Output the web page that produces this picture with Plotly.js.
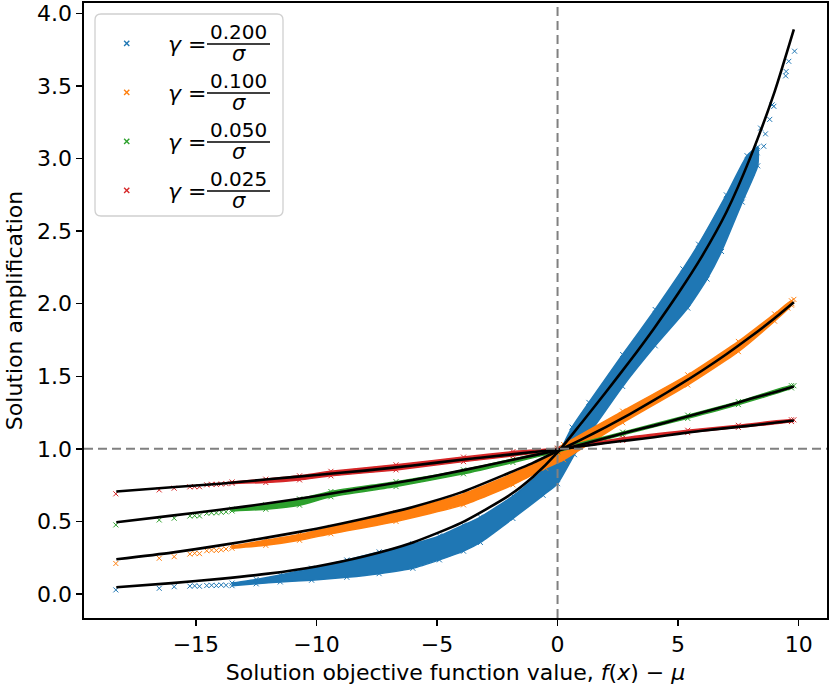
<!DOCTYPE html>
<html>
<head>
<meta charset="utf-8">
<script src="https://cdn.plot.ly/plotly-3.0.1.min.js"></script>
<style>html,body{margin:0;padding:0;background:#fff;}#chart{width:831px;height:692px;}</style>
</head>
<body>
<div id="chart"></div>
<script>
// ---------- data ----------
const seriesNames = ["γ = 0.200/σ", "γ = 0.100/σ", "γ = 0.050/σ", "γ = 0.025/σ"];
const gammaLabels = ["0.200", "0.100", "0.050", "0.025"];
const xTickVals = [-15, -10, -5, 0, 5, 10];
const xTickText = ["−15", "−10", "−5", "0", "5", "10"];
const yTickVals = [0, 0.5, 1, 1.5, 2, 2.5, 3, 3.5, 4];
const yTickText = ["0.0", "0.5", "1.0", "1.5", "2.0", "2.5", "3.0", "3.5", "4.0"];
const refX = 0;
const refY = 1;

// black model curves
const curveX = [-18.3, -16, -14, -12, -10, -8, -6, -4, -2, -1, 0, 1, 2, 3, 4, 5, 6, 7, 8, 9, 9.8];
const curveBlue   = [0.046, 0.075, 0.104, 0.14, 0.19, 0.26, 0.355, 0.49, 0.68, 0.81, 0.975, 1.18, 1.39, 1.605, 1.83, 2.07, 2.33, 2.63, 3.01, 3.46, 3.89];
const curveOrange = [0.239, 0.285, 0.335, 0.39, 0.45, 0.52, 0.60, 0.70, 0.835, 0.905, 0.985, 1.065, 1.15, 1.24, 1.335, 1.435, 1.54, 1.652, 1.772, 1.90, 2.01];
const curveGreen  = [0.494, 0.54, 0.58, 0.625, 0.675, 0.73, 0.785, 0.85, 0.92, 0.955, 0.99, 1.03, 1.075, 1.12, 1.16, 1.205, 1.25, 1.295, 1.345, 1.39, 1.43];
const curveRed    = [0.706, 0.735, 0.76, 0.79, 0.82, 0.85, 0.885, 0.925, 0.96, 0.978, 0.995, 1.018, 1.04, 1.06, 1.08, 1.103, 1.125, 1.143, 1.16, 1.18, 1.195];

// dense sample clouds: upper and lower envelopes
const blueUpperX = [-13.5, -12.5, -11.5, -10.2, -8.74, -7.4, -6.0, -4.9, -3.9, -3.2, -1.85, -0.75, 0, 0.6, 1.3, 2.7, 4.05, 5.2, 5.85, 7.0, 7.86, 8.3];
const blueUpperY = [0.075, 0.1, 0.131, 0.178, 0.234, 0.29, 0.345, 0.40, 0.475, 0.53, 0.675, 0.83, 0.955, 1.15, 1.32, 1.65, 1.96, 2.24, 2.41, 2.75, 3.02, 3.08];
const blueLowerX = [8.3, 7.66, 6.8, 6.2, 5.4, 4.05, 2.7, 1.3, 0.7, 0, -0.6, -1.85, -3.2, -3.9, -4.9, -6.0, -7.4, -8.74, -10.2, -11.5, -12.5, -13.5];
const blueLowerY = [2.95, 2.70, 2.36, 2.17, 1.97, 1.71, 1.43, 1.10, 0.96, 0.76, 0.68, 0.52, 0.355, 0.295, 0.235, 0.177, 0.14, 0.115, 0.095, 0.083, 0.07, 0.057];

const orangeUpperX = [-13.5, -12.1, -10.7, -9.4, -6.7, -3.9, -1.85, -0.5, 0.25, 2.7, 5.4, 7.5, 9.0, 9.7];
const orangeUpperY = [0.33, 0.37, 0.41, 0.46, 0.56, 0.69, 0.83, 0.945, 1.03, 1.26, 1.51, 1.74, 1.93, 2.02];
const orangeLowerX = [9.7, 9.0, 7.5, 5.4, 2.7, 0.25, -0.5, -1.85, -3.9, -6.7, -9.4, -10.7, -12.1, -13.5];
const orangeLowerY = [1.99, 1.88, 1.67, 1.44, 1.18, 0.925, 0.867, 0.752, 0.614, 0.5, 0.415, 0.37, 0.335, 0.315];

const greenUpperX = [-13.5, -12.1, -10.7, -9.4, -6.7, -3.9, -1.85, 0, 2.7, 5.4, 7.5, 9.7];
const greenUpperY = [0.585, 0.614, 0.655, 0.706, 0.774, 0.855, 0.929, 1.0, 1.115, 1.232, 1.325, 1.435];
const greenLowerX = [9.7, 7.5, 5.4, 2.7, 0, -1.85, -3.9, -6.7, -9.4, -10.7, -12.1, -13.5];
const greenLowerY = [1.42, 1.305, 1.21, 1.097, 0.98, 0.906, 0.828, 0.74, 0.67, 0.612, 0.584, 0.572];

const redUpperX = [-13.5, -12.1, -10.7, -9.4, -6.7, -3.9, -1.85, 0, 2.7, 5.4, 7.5, 9.7];
const redUpperY = [0.772, 0.791, 0.814, 0.845, 0.89, 0.943, 0.981, 1.005, 1.075, 1.128, 1.162, 1.2];
const redLowerX = [9.7, 7.5, 5.4, 2.7, 0, -1.85, -3.9, -6.7, -9.4, -10.7, -12.1, -13.5];
const redLowerY = [1.188, 1.148, 1.112, 1.058, 0.99, 0.952, 0.912, 0.855, 0.814, 0.786, 0.768, 0.762];

// sparse individual samples
const blueSparseX = [-18.32, -16.52, -15.9, -15.25, -15.05, -14.85, -14.55, -14.35, -14.15, -13.95, -13.75, 7.2, 7.45, 7.7, 7.9, 8.05, 8.14, 8.28, 8.42, 8.55, 8.62, 8.8, 8.9, 8.97, 9.46, 9.48, 9.59, 9.83];
const blueSparseY = [0.028, 0.039, 0.05, 0.054, 0.056, 0.053, 0.058, 0.06, 0.058, 0.062, 0.06, 2.6, 2.67, 2.75, 2.86, 2.9, 2.97, 3.04, 3.21, 3.085, 3.17, 3.27, 3.37, 3.36, 3.57, 3.60, 3.67, 3.74];
const orangeSparseX = [-18.32, -16.52, -15.9, -15.25, -15.05, -14.85, -14.55, -14.35, -14.15, -13.95, -13.75, 9.55, 9.72, 9.8];
const orangeSparseY = [0.21, 0.246, 0.257, 0.275, 0.28, 0.278, 0.298, 0.302, 0.3, 0.305, 0.31, 1.97, 2.0, 2.03];
const greenSparseX = [-18.32, -16.52, -15.9, -15.25, -15.05, -14.85, -14.55, -14.35, -14.15, -13.95, -13.75, 9.8];
const greenSparseY = [0.476, 0.51, 0.522, 0.537, 0.54, 0.538, 0.556, 0.56, 0.559, 0.563, 0.566, 1.435];
const redSparseX = [-18.32, -16.52, -15.9, -15.25, -15.05, -14.85, -14.55, -14.35, -14.15, -13.95, -13.75, 9.8];
const redSparseY = [0.69, 0.717, 0.729, 0.738, 0.74, 0.739, 0.752, 0.756, 0.755, 0.758, 0.76, 1.2];

// ---------- building the figure ----------
const colors = ["#1f77b4", "#ff7f0e", "#2ca02c", "#d62728"];
const clouds = [
  [blueUpperX, blueUpperY, blueLowerX, blueLowerY, blueSparseX, blueSparseY],
  [orangeUpperX, orangeUpperY, orangeLowerX, orangeLowerY, orangeSparseX, orangeSparseY],
  [greenUpperX, greenUpperY, greenLowerX, greenLowerY, greenSparseX, greenSparseY],
  [redUpperX, redUpperY, redLowerX, redLowerY, redSparseX, redSparseY]
];
const curves = [curveBlue, curveOrange, curveGreen, curveRed];

const traces = [];
clouds.forEach((c, i) => {
  traces.push({
    type: "scatter", mode: "lines+markers", name: seriesNames[i], showlegend: false,
    x: c[0].concat(c[2]), y: c[1].concat(c[3]),
    fill: "toself", fillcolor: colors[i],
    line: {color: colors[i], width: 1.5, shape: "spline", smoothing: 0.5},
    marker: {symbol: "x-thin", size: 5, line: {width: 1, color: colors[i]}, color: colors[i]},
    hoverinfo: "skip"
  });
  traces.push({
    type: "scatter", mode: "markers", name: seriesNames[i], showlegend: false,
    x: c[4], y: c[5],
    marker: {symbol: "x-thin", size: 5, line: {width: 1, color: colors[i]}, color: colors[i]}
  });
});
curves.forEach((cy) => {
  traces.push({
    type: "scatter", mode: "lines", showlegend: false,
    x: curveX, y: cy, line: {color: "#000000", width: 2.6, shape: "spline", smoothing: 0.6}
  });
});

// plot area in pixels (for legend placement)
const PL = 84, PR = 827, PT = 3, PB = 618;
const X = px => (px - PL) / (PR - PL);
const Y = py => (PB - py) / (PB - PT);

const shapes = [
  {type: "line", xref: "x", yref: "paper", x0: refX, x1: refX, y0: 0, y1: 1, layer: "above",
   line: {color: "#808080", width: 2, dash: "9px,5px"}},
  {type: "line", xref: "paper", yref: "y", x0: 0, x1: 1, y0: refY, y1: refY, layer: "above",
   line: {color: "#808080", width: 2, dash: "9px,5px"}}
];
// legend frame (rounded)
const bx0 = 95, bx1 = 283, by0 = 14, by1 = 216, r = 6;
shapes.push({
  type: "path", xref: "paper", yref: "paper", layer: "above",
  path: `M ${X(bx0 + r)},${Y(by0)} L ${X(bx1 - r)},${Y(by0)} Q ${X(bx1)},${Y(by0)} ${X(bx1)},${Y(by0 + r)} ` +
        `L ${X(bx1)},${Y(by1 - r)} Q ${X(bx1)},${Y(by1)} ${X(bx1 - r)},${Y(by1)} ` +
        `L ${X(bx0 + r)},${Y(by1)} Q ${X(bx0)},${Y(by1)} ${X(bx0)},${Y(by1 - r)} ` +
        `L ${X(bx0)},${Y(by0 + r)} Q ${X(bx0)},${Y(by0)} ${X(bx0 + r)},${Y(by0)} Z`,
  fillcolor: "rgba(255,255,255,0.8)", line: {color: "#d0d0d0", width: 1.3}
});
const annotations = [];
const fontFam = "DejaVu Sans, sans-serif";
gammaLabels.forEach((g, i) => {
  const cy = 43.3 + 49 * i;
  const cx = 126.7, h = 2.6;
  shapes.push({type: "line", xref: "paper", yref: "paper", layer: "above",
    x0: X(cx - h), x1: X(cx + h), y0: Y(cy - h), y1: Y(cy + h), line: {color: colors[i], width: 1.4}});
  shapes.push({type: "line", xref: "paper", yref: "paper", layer: "above",
    x0: X(cx - h), x1: X(cx + h), y0: Y(cy + h), y1: Y(cy - h), line: {color: colors[i], width: 1.4}});
  shapes.push({type: "line", xref: "paper", yref: "paper", layer: "above",
    x0: X(207), x1: X(270), y0: Y(cy + 0.7), y1: Y(cy + 0.7), line: {color: "#000000", width: 1.3}});
  annotations.push({xref: "paper", yref: "paper", x: X(166), y: Y(cy + 1), xanchor: "left", yanchor: "middle",
    text: "<i>γ</i> =", showarrow: false, font: {family: fontFam, size: 22, color: "#000"}});
  annotations.push({xref: "paper", yref: "paper", x: X(238.5), y: Y(cy - 11), xanchor: "center", yanchor: "middle",
    text: g, showarrow: false, font: {family: fontFam, size: 20, color: "#000"}});
  annotations.push({xref: "paper", yref: "paper", x: X(239), y: Y(cy + 10.5), xanchor: "center", yanchor: "middle",
    text: "<i>σ</i>", showarrow: false, font: {family: fontFam, size: 21, color: "#000"}});
});

const axisCommon = {
  showline: true, mirror: true, linecolor: "#000", linewidth: 1.6,
  ticks: "outside", ticklen: 6, tickwidth: 1.4, tickcolor: "#000",
  showgrid: false, zeroline: false,
  tickfont: {family: fontFam, size: 22, color: "#000"}
};

const layout = {
  width: 831, height: 692,
  margin: {l: PL, r: 831 - PR, t: PT, b: 692 - PB, pad: 0},
  paper_bgcolor: "#fff", plot_bgcolor: "#fff",
  font: {family: fontFam, size: 22, color: "#000"},
  showlegend: false,
  xaxis: Object.assign({}, axisCommon, {
    range: [-19.64, 11.175], tickmode: "array", tickvals: xTickVals, ticktext: xTickText,
    title: {text: "Solution objective function value, <i>f</i>(<i>x</i>) − <i>μ</i>", font: {family: fontFam, size: 22, color: "#000"}, standoff: 8}
  }),
  yaxis: Object.assign({}, axisCommon, {
    range: [-0.1655, 4.072], tickmode: "array", tickvals: yTickVals, ticktext: yTickText,
    title: {text: "Solution amplification", font: {family: fontFam, size: 22, color: "#000"}, standoff: 8}
  }),
  shapes: shapes,
  annotations: annotations
};

Plotly.newPlot("chart", traces, layout, {displayModeBar: false, staticPlot: true});
</script>
</body>
</html>
